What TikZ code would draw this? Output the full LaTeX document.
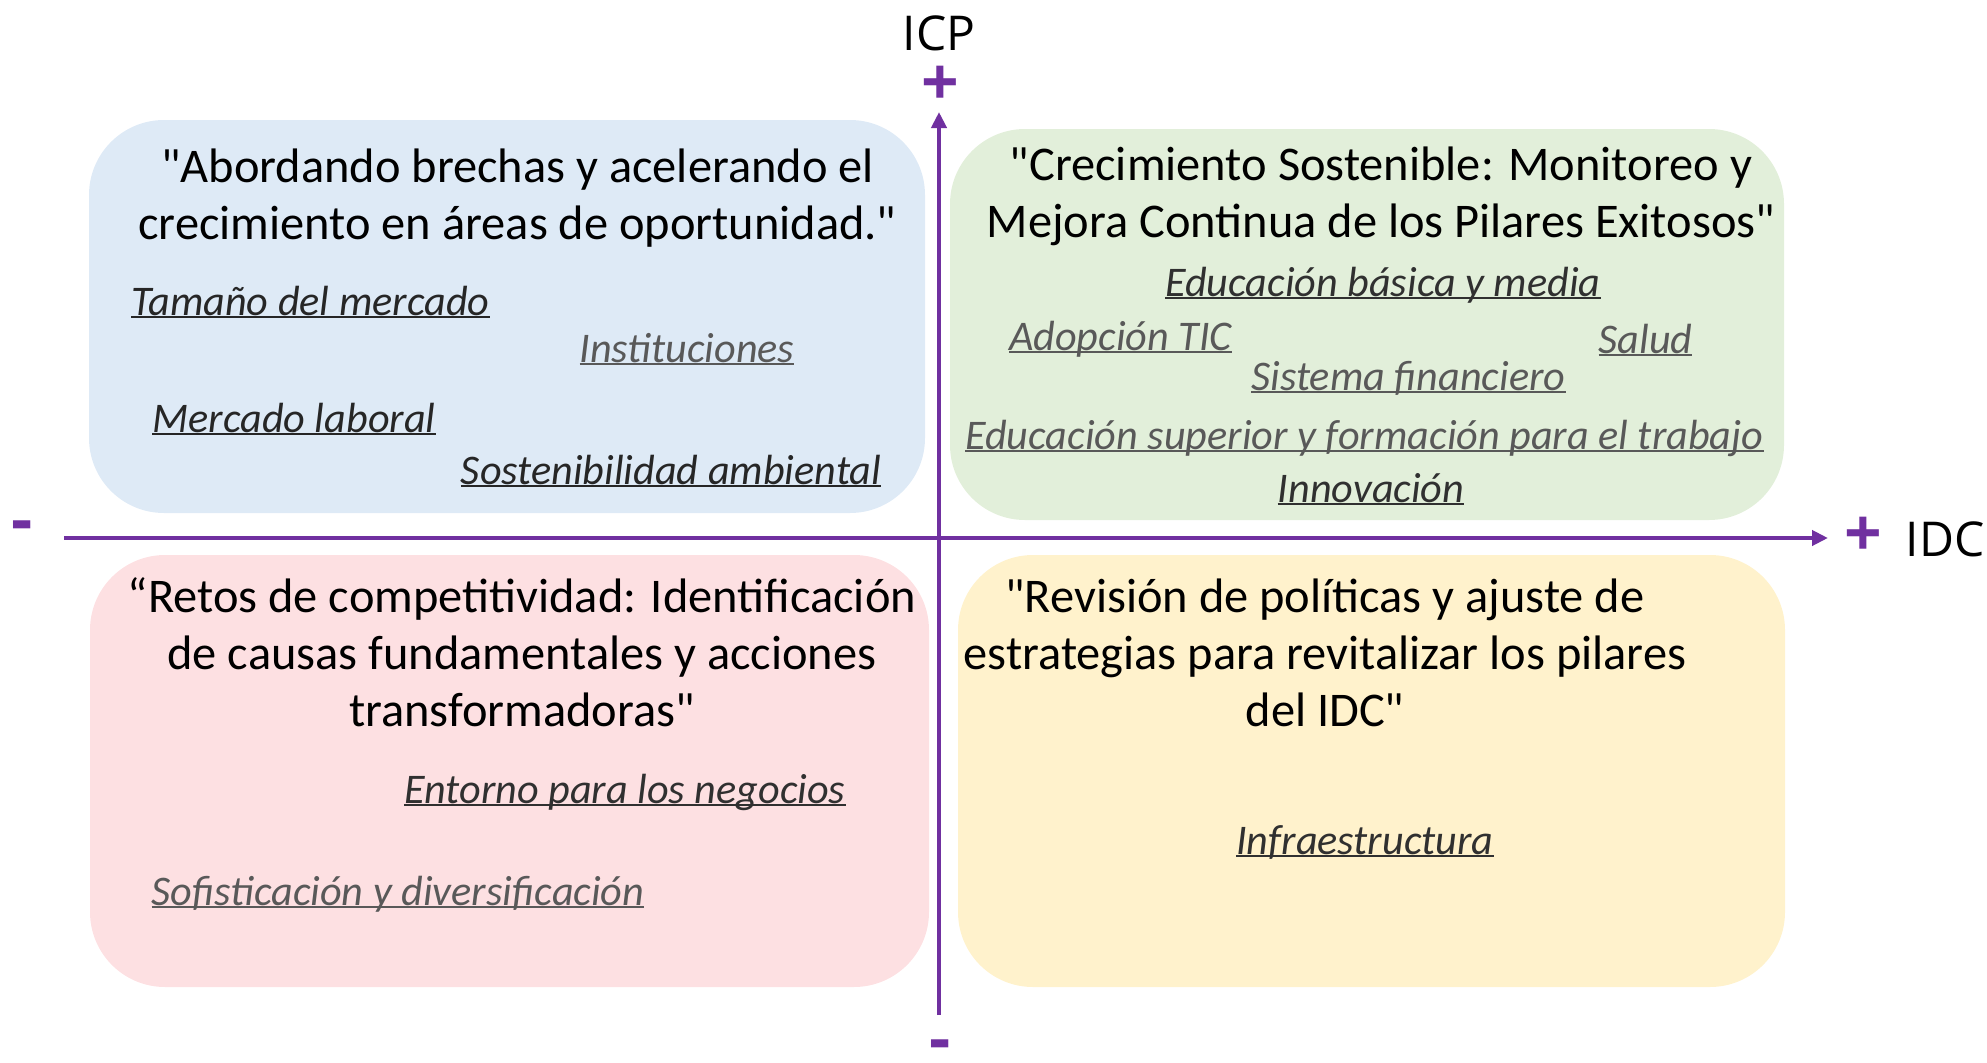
\documentclass[tikz,border=0pt]{standalone}
\usepackage{fontspec}
\setmainfont{Carlito}
\newfontfamily\qfont{Carlito}
\newfontfamily\axisfont{Open Sans}
\newfontfamily\signfont{Open Sans Bold}
\usetikzlibrary{arrows.meta}
\definecolor{qblue}{HTML}{DEEAF6}
\definecolor{qgreen}{HTML}{E2EFDA}
\definecolor{qpink}{HTML}{FDE0E2}
\definecolor{qyellow}{HTML}{FFF2CC}
\definecolor{axpurple}{HTML}{7030A0}
\definecolor{itdark}{HTML}{262626}
\definecolor{itgrey}{HTML}{595959}
\newcommand\uln[1]{\setbox0\hbox{#1}\rlap{\rule[-0.075em]{\wd0}{0.04em}}\box0}
\newcommand\ctitle[1]{\vtop{\halign{\hfil##\hfil\cr#1\crcr}}}
\tikzset{
  qbox/.style={draw=none, rounded corners=75pt, inner sep=0pt},
  ttl/.style={font=\qfont\fontsize{48.4}{57}\selectfont, anchor=base, inner sep=0pt, text=black},
  itm/.style={font=\qfont\fontsize{42.2}{49}\selectfont\itshape, anchor=base, inner sep=0pt},
  axis/.style={draw=axpurple, line width=4pt, -{Triangle[length=16pt,width=15pt]}},
  sign/.style={font=\signfont\fontsize{66}{70}\selectfont, text=axpurple, inner sep=0pt},
  axlbl/.style={font=\axisfont\fontsize{48}{56}\selectfont, text=black, inner sep=0pt}
}
\begin{document}
\begin{tikzpicture}[x=1pt,y=-1pt]
\useasboundingbox (0,0) rectangle (1987,1063);
% quadrant boxes
\node[qbox, fill=qblue, minimum width=836pt, minimum height=393pt] (q1) at (507,316.5) {};
\node[qbox, fill=qgreen, minimum width=834pt, minimum height=391pt] (q2) at (1367,324.5) {};
\node[qbox, fill=qpink, minimum width=839pt, minimum height=432pt] (q3) at (509.5,771) {};
\node[qbox, fill=qyellow, minimum width=827pt, minimum height=432pt] (q4) at (1371.5,771) {};
% axes
\coordinate (vbot) at (939,1015);
\coordinate (vtop) at (939,112);
\coordinate (hleft) at (64,538);
\coordinate (hright) at (1828,538);
\draw[axis] (vbot) -- (vtop);
\draw[axis] (hleft) -- (hright);
\node[sign] (ptop) at (940,86) {+};
\node[sign] (pright) at (1863,537) {+};
\node[sign] (mbot) at (940,1051) {-};
\node[sign] (mleft) at (22,532) {-};
\node[axlbl] (icp) at (939,33) {ICP};
\node[axlbl] (idc) at (1945,539) {IDC};
% titles
\node[ttl] (t1) at (517.5,182) {\ctitle{"Abordando brechas y acelerando el\cr crecimiento en áreas de oportunidad."}};
\node[ttl] (t2) at (1381,180) {\ctitle{"Crecimiento Sostenible: Monitoreo y\cr Mejora Continua de los Pilares Exitosos"}};
\node[ttl] (t3) at (522,612) {\ctitle{“Retos de competitividad: Identificación\cr de causas fundamentales y acciones\cr transformadoras"}};
\node[ttl] (t4) at (1325,612) {\ctitle{"Revisión de políticas y ajuste de\cr estrategias para revitalizar los pilares\cr del IDC"}};
% items
\node[itm, text=itdark] (i1) at (310.5,315) {\uln{Tamaño del mercado}};
\node[itm, text=itgrey] (i2) at (687,362) {\uln{Instituciones}};
\node[itm, text=itdark] (i3) at (294,432) {\uln{Mercado laboral}};
\node[itm, text=itdark] (i4) at (671,484) {\uln{Sostenibilidad ambiental}};
\node[itm, text=itdark!80!itgrey] (i5) at (1383,296) {\uln{Educación básica y media}};
\node[itm, text=itgrey] (i6) at (1120.5,350) {\uln{Adopción TIC}};
\node[itm, text=itgrey] (i7) at (1645.5,353) {\uln{Salud}};
\node[itm, text=itgrey] (i8) at (1408.5,390) {\uln{Sistema financiero}};
\node[itm, text=itgrey] (i9) at (1364.5,449) {\uln{Educación superior y formación para el trabajo}};
\node[itm, text=itdark!80!itgrey] (i10) at (1371,502) {\uln{Innovación}};
\node[itm, text=itdark!80!itgrey] (i11) at (625,803) {\uln{Entorno para los negocios}};
\node[itm, text=itgrey] (i12) at (398,905) {\uln{Sofisticación y diversificación}};
\node[itm, text=itdark!80!itgrey] (i13) at (1365,854) {\uln{Infraestructura}};
\end{tikzpicture}
\end{document}
